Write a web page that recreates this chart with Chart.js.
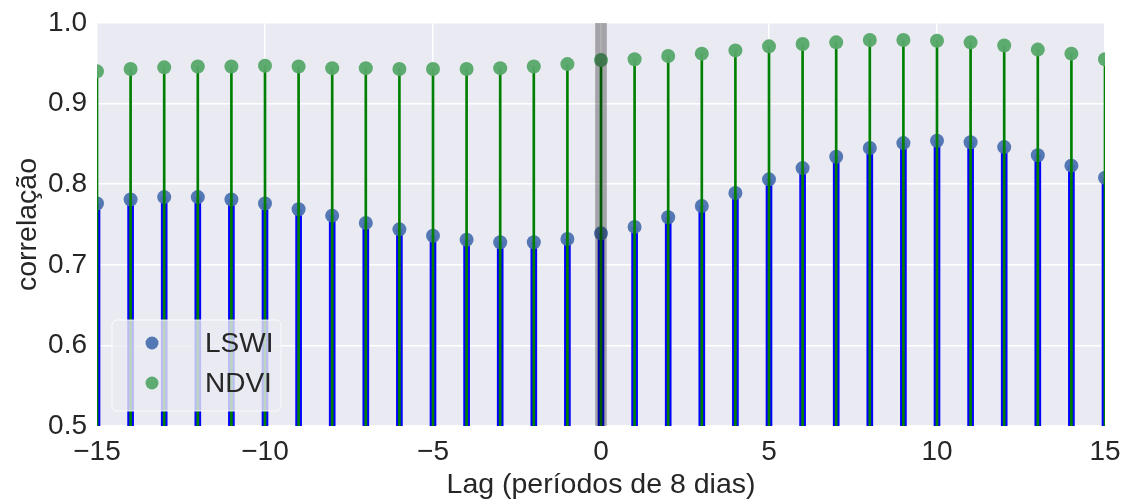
<!DOCTYPE html>
<html>
<head>
<meta charset="utf-8">
<title>Correlação por lag</title>
<script src="https://cdn.jsdelivr.net/npm/chart.js@4.4.0/dist/chart.umd.min.js"></script>
<style>
    html, body { margin: 0; padding: 0; background: #fff; overflow: hidden; }
    canvas { display: block; }
</style>
</head>
<body>
<canvas id="myChart" width="1127" height="502"></canvas>
<script>
// lag em períodos de 8 dias
const lags = [-15, -14, -13, -12, -11, -10, -9, -8, -7, -6, -5, -4, -3, -2, -1, 0,
    1, 2, 3, 4, 5, 6, 7, 8, 9, 10, 11, 12, 13, 14, 15];
const lswi = [0.776, 0.781, 0.784, 0.784, 0.781, 0.776, 0.769, 0.761, 0.752, 0.744, 0.736,
    0.731, 0.728, 0.728, 0.732, 0.739, 0.747, 0.759, 0.773, 0.789, 0.806, 0.820,
    0.834, 0.845, 0.851, 0.854, 0.852, 0.846, 0.836, 0.823, 0.808];
const ndvi = [0.940, 0.943, 0.945, 0.946, 0.946, 0.947, 0.946, 0.944, 0.944, 0.943, 0.943,
    0.943, 0.944, 0.946, 0.949, 0.954, 0.955, 0.959, 0.962, 0.966, 0.971, 0.974,
    0.976, 0.979, 0.979, 0.978, 0.976, 0.972, 0.967, 0.962, 0.955];
const yBase = 0.5;
const yMax = 1.0;
const zeroLag = 0;

const font = "'Liberation Sans', Arial, sans-serif";
const textColor = '#262626';

function stems(values) {
    return lags.map((x, i) => ({ x: x, y: [yBase, values[i]] }));
}
function points(values) {
    return lags.map((x, i) => ({ x: x, y: values[i] }));
}

// fundo cinza do seaborn
const bgPlugin = {
    id: 'bg',
    beforeDraw(chart) {
        const a = chart.chartArea;
        const ctx = chart.ctx;
        ctx.save();
        ctx.fillStyle = '#EAEAF2';
        ctx.fillRect(a.left, a.top, a.right - a.left, a.bottom - a.top);
        ctx.restore();
    }
};

// legenda dentro do gráfico, canto inferior esquerdo
const legendPlugin = {
    id: 'innerLegend',
    afterDraw(chart) {
        const a = chart.chartArea;
        const ctx = chart.ctx;
        const x0 = a.left + 15, y0 = a.bottom - 106, w = 169, h = 91;
        ctx.save();
        ctx.beginPath();
        ctx.roundRect(x0, y0, w, h, 5);
        ctx.fillStyle = 'rgba(234,234,242,0.8)';
        ctx.fill();
        ctx.strokeStyle = 'rgba(255,255,255,0.8)';
        ctx.lineWidth = 1;
        ctx.stroke();
        const items = chart.data.datasets.filter(d => d.type === 'scatter');
        items.forEach((d, i) => {
            const cy = y0 + 23 + i * 40;
            ctx.beginPath();
            ctx.arc(x0 + 40, cy, 6.5, 0, Math.PI * 2);
            ctx.fillStyle = d.backgroundColor;
            ctx.fill();
            ctx.fillStyle = textColor;
            ctx.font = '28px ' + font;
            ctx.textBaseline = 'middle';
            ctx.fillText(d.label, x0 + 93, cy + 1);
        });
        ctx.restore();
    }
};

const ctx = document.getElementById('myChart');
new Chart(ctx, {
    type: 'bar',
    data: {
        datasets: [
            {
                type: 'bar', label: 'lswi stem', data: stems(lswi),
                backgroundColor: '#0000FF', barThickness: 6, grouped: false, order: 5, clip: 0
            },
            {
                type: 'scatter', label: 'LSWI', data: points(lswi),
                backgroundColor: 'rgba(76,114,176,0.95)', borderWidth: 0, pointRadius: 7, order: 4, clip: 0
            },
            {
                type: 'bar', label: 'ndvi stem', data: stems(ndvi),
                backgroundColor: '#008000', barThickness: 2, grouped: false, order: 3, clip: 0
            },
            {
                type: 'scatter', label: 'NDVI', data: points(ndvi),
                backgroundColor: 'rgba(85,168,104,0.95)', borderWidth: 0, pointRadius: 7, order: 2, clip: 0
            },
            {
                // faixa vertical no lag zero
                type: 'bar', label: 'lag0', data: [{ x: zeroLag, y: [yBase, yMax] }],
                backgroundColor: 'rgba(0,0,0,0.3)', barThickness: 11, grouped: false, order: 1, clip: 0
            }
        ]
    },
    options: {
        responsive: false,
        animation: false,
        devicePixelRatio: 1,
        layout: { padding: { top: 23, right: 22, left: 0, bottom: 0 } },
        plugins: {
            legend: { display: false },
            tooltip: { enabled: false }
        },
        scales: {
            x: {
                type: 'linear',
                min: -15, max: 15,
                offset: false,
                afterFit(s) { s.height = 76; s.paddingLeft = 0; s.paddingRight = 0; },
                grid: { color: '#FFFFFF', lineWidth: 1.5, drawTicks: false, offset: false },
                border: { display: false },
                ticks: {
                    stepSize: 5,
                    padding: 9,
                    color: textColor,
                    font: { family: font, size: 28 },
                    callback: v => (v < 0 ? '\u2212' + Math.abs(v) : String(v))
                },
                title: {
                    display: true,
                    text: 'Lag (períodos de 8 dias)',
                    color: textColor,
                    font: { family: font, size: 28.5 },
                    padding: { top: 0, bottom: 0 }
                }
            },
            y: {
                min: yBase, max: yMax,
                afterFit(s) { s.width = 97; s.paddingTop = 0; s.paddingBottom = 0; },
                grid: { color: '#FFFFFF', lineWidth: 1.5, drawTicks: false },
                border: { display: false },
                ticks: {
                    stepSize: 0.1,
                    padding: 10,
                    color: textColor,
                    font: { family: font, size: 28 },
                    callback: v => v.toFixed(1)
                },
                title: {
                    display: true,
                    text: 'correlação',
                    color: textColor,
                    font: { family: font, size: 28.5 },
                    padding: { top: 11, bottom: 0 }
                }
            }
        }
    },
    plugins: [bgPlugin, legendPlugin]
});
</script>
</body>
</html>
